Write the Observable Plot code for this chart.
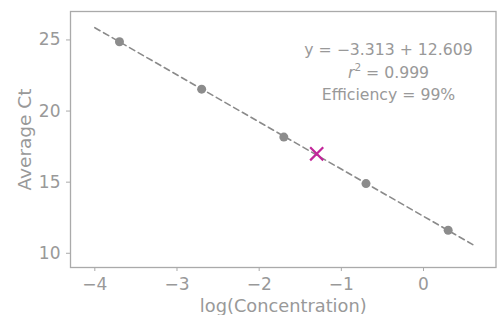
<!DOCTYPE html>
<html>
<head>
<meta charset="utf-8">
<script src="https://cdn.jsdelivr.net/npm/d3@7"></script>
<script src="https://cdn.jsdelivr.net/npm/@observablehq/plot@0.6"></script>
<style>
  html, body { margin: 0; padding: 0; background: #fff; }
</style>
</head>
<body>
<div id="chart"></div>
<script>
// Standard points
const logConc = [-3.7, -2.7, -1.7, -0.7, 0.3];
const avgCt = [24.87, 21.54, 18.17, 14.90, 11.62];
// Unknown sample
const unknownX = [-1.3];
const unknownY = [16.99];
// Fitted line endpoints
const fitX = [-4, 0.6];
const fitY = [25.86, 10.61];
// Annotation
const annotation = ["y = −3.313 + 12.609", "r² = 0.999", "Efficiency = 99%"];
const xTicks = [-4, -3, -2, -1, 0];
const yTicks = [10, 15, 20, 25];

const points = logConc.map((x, i) => ({x, y: avgCt[i]}));
const unknown = unknownX.map((x, i) => ({x, y: unknownY[i]}));
const fit = fitX.map((x, i) => ({x, y: fitY[i]}));

const gray = "#999999";

const chart = Plot.plot({
  width: 498,
  height: 315,
  marginLeft: 70,
  marginRight: 2.5,
  marginTop: 11,
  marginBottom: 48,
  style: {fontFamily: "DejaVu Sans", fontSize: "17px", color: gray, background: "#fff"},
  x: {domain: [-4.296, 0.882], ticks: xTicks, tickFormat: d => d < 0 ? "−" + Math.abs(d) : String(d),
      label: "log(Concentration)", labelAnchor: "center", labelArrow: "none", tickSize: 4, tickPadding: 6, labelOffset: 44},
  y: {domain: [9, 27], ticks: yTicks, label: "Average Ct", labelAnchor: "center", labelArrow: "none",
      tickSize: 4, tickPadding: 6, labelOffset: 53},
  marks: [
    Plot.frame({stroke: "#aaaaaa", strokeWidth: 1.3}),
    Plot.line(fit, {x: "x", y: "y", stroke: "#8a8a8a", strokeWidth: 1.6, strokeDasharray: "6,4"}),
    Plot.dot(points, {x: "x", y: "y", r: 4.5, fill: "#8c8c8c", stroke: "none"}),
    Plot.dot(unknown, {x: "x", y: "y", symbol: "times", r: 6, stroke: "#c2269a", strokeWidth: 2.2}),
    Plot.text([annotation.join("\n")], {frameAnchor: "top-right", dx: -107.5, dy: 59, textAnchor: "middle",
      lineAnchor: "middle", lineHeight: 1.42, fontSize: 15.7, fill: gray})
  ]
});

document.getElementById("chart").appendChild(chart);

// Italic r with superscript 2
d3.select(chart).selectAll("tspan, text").each(function() {
  const el = d3.select(this);
  if (this.childElementCount === 0 && el.text() === "r² = 0.999") {
    el.text("");
    el.append("tspan").attr("font-style", "italic").text("r");
    el.append("tspan").attr("font-size", "10.5px").attr("dy", "-0.6em").text("2");
    el.append("tspan").attr("dy", "0.4em").text(" = 0.999");
  }
});
d3.select(chart).selectAll("[aria-label='x-axis label']").attr("font-size", "17.8px");
d3.select(chart).selectAll("[aria-label='y-axis label']").attr("font-size", "18.5px");
d3.select(chart).selectAll("[aria-label='x-axis tick'], [aria-label='y-axis tick']").attr("stroke", "#aaaaaa");
</script>
</body>
</html>
